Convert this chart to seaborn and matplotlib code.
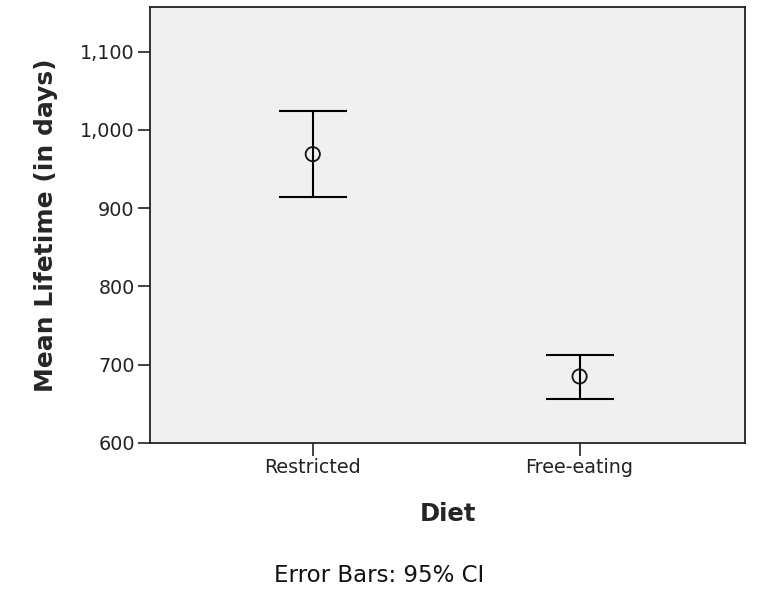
import matplotlib
matplotlib.use("Agg")
import matplotlib.pyplot as plt
import matplotlib.ticker as mticker
import seaborn as sns
import pandas as pd

diet = ["Restricted", "Free-eating"]
mean_life = [969, 685]
ci_low = [914, 656]
ci_high = [1024, 713]

df = pd.DataFrame({"Diet": diet, "Mean": mean_life})

sns.set_style("ticks")
plt.rcParams["font.family"] = ["DejaVu Sans"]

fig = plt.figure(figsize=(7.58, 6.02), dpi=100)
ax = fig.add_axes([150 / 758, 1 - 443 / 602, 595 / 758, 436 / 602])
ax.set_facecolor("#f0f0f0")

sns.scatterplot(data=df, x="Diet", y="Mean", ax=ax, marker="o", s=105,
                facecolor="none", edgecolor="#111111", linewidth=1.3, zorder=3)

xs = range(len(diet))
yerr = [[m - lo for m, lo in zip(mean_life, ci_low)],
        [hi - m for m, hi in zip(mean_life, ci_high)]]
ax.errorbar(list(xs), mean_life, yerr=yerr, fmt="none", ecolor="black",
            elinewidth=1.5, capsize=24.5, capthick=1.5, zorder=2)

ax.set_xlim(-0.61, 1.62)
ax.set_ylim(600, 1157)
ax.set_yticks([600, 700, 800, 900, 1000, 1100])
ax.yaxis.set_major_formatter(mticker.FuncFormatter(lambda v, p: f"{int(v):,}"))

for s in ax.spines.values():
    s.set_visible(True)
    s.set_color("#222222")
    s.set_linewidth(1.3)

ax.tick_params(axis="both", direction="out", length=9, width=1.3, color="#333333",
               labelsize=13.8, labelcolor="#222222", pad=2)

ax.set_xlabel("Diet", fontsize=17.5, fontweight="bold", labelpad=18)
ax.set_ylabel("Mean Lifetime (in days)", fontsize=18, fontweight="bold", labelpad=16)

fig.text(0.5, 1 - 575 / 602, "Error Bars: 95% CI", ha="center", va="center",
         fontsize=16.5, color="#111111")

fig.savefig("out.png", dpi=100)
